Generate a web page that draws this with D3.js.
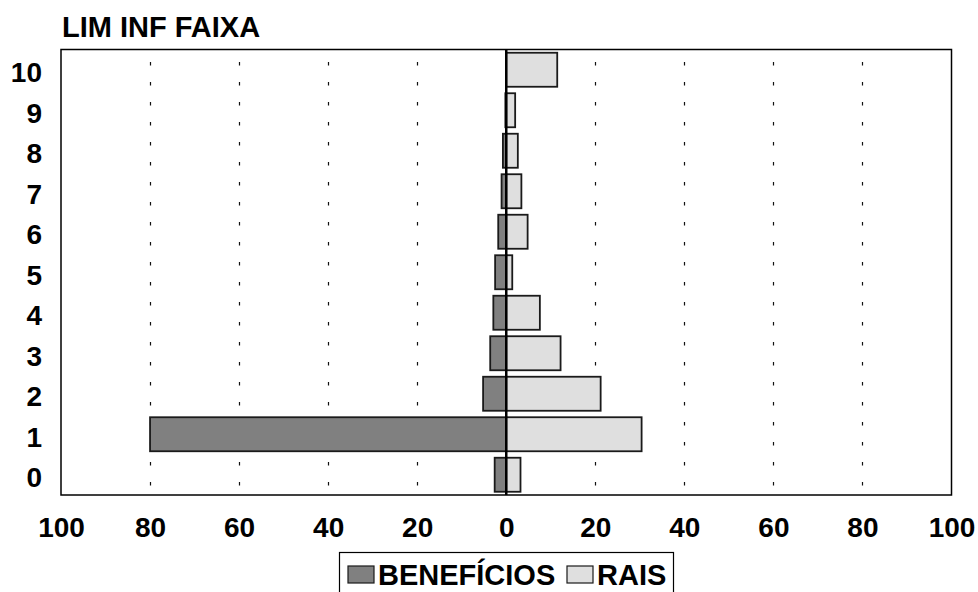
<!DOCTYPE html>
<html>
<head>
<meta charset="utf-8">
<script src="https://cdn.jsdelivr.net/npm/d3@7"></script>
<style>
  body { margin: 0; background: #fff; }
  text { font-family: "Liberation Sans", Arial, sans-serif; font-weight: bold; }
</style>
</head>
<body>
<div id="chart"></div>
<script>
// faixas (de baixo para cima) e valores em %
var faixas = ["0", "1", "2", "3", "4", "5", "6", "7", "8", "9", "10"];
var beneficios = [-2.6, -80, -5.2, -3.6, -2.9, -2.5, -1.8, -1.05, -0.75, -0.2, 0];
var rais = [3.2, 30.4, 21.2, 12.2, 7.55, 1.35, 4.8, 3.4, 2.6, 2.0, 11.45];
var xTicks = [-100, -80, -60, -40, -20, 0, 20, 40, 60, 80, 100];

var W = 978, H = 592;
var mLeft = 61, mRight = 951.5, mTop = 49.5, mBottom = 495;
var fs = 28;

var svg = d3.select("#chart").append("svg")
  .attr("width", W)
  .attr("height", H);

var x = d3.scaleLinear().domain([-100, 100]).range([mLeft, mRight]);
var y = d3.scaleBand()
  .domain(faixas.slice().reverse())
  .range([mTop, mBottom])
  .paddingInner(0.16)
  .paddingOuter(0.08);

// title
svg.append("text")
  .attr("x", 62)
  .attr("y", 37)
  .attr("font-size", 29)
  .text("LIM INF FAIXA");

// grid
svg.append("g")
  .selectAll("line")
  .data(xTicks.filter(function(d){ return d != 0 && Math.abs(d) != 100; }))
  .enter().append("line")
  .attr("x1", function(d){ return Math.round(x(d)) + 0.5; })
  .attr("x2", function(d){ return Math.round(x(d)) + 0.5; })
  .attr("y1", mTop)
  .attr("y2", mBottom)
  .attr("stroke", "#111")
  .attr("stroke-width", 1.2)
  .attr("stroke-dasharray", "3.5,16.5")
  .attr("stroke-dashoffset", 7.5);

function drawBars(vals, fill) {
  svg.append("g")
    .selectAll("rect")
    .data(vals)
    .enter().append("rect")
    .attr("x", function(d){ return x(Math.min(0, d)); })
    .attr("width", function(d){ return Math.abs(x(d) - x(0)); })
    .attr("y", function(d, i){ return y(faixas[i]); })
    .attr("height", y.bandwidth())
    .attr("fill", fill)
    .attr("stroke", "#1a1a1a")
    .attr("stroke-width", 1.8)
    .style("display", function(d){ return d == 0 ? "none" : null; });
}
drawBars(beneficios, "#808080");
drawBars(rais, "#dfdfdf");

// frame
svg.append("rect")
  .attr("x", mLeft).attr("y", mTop)
  .attr("width", mRight - mLeft).attr("height", mBottom - mTop)
  .attr("fill", "none")
  .attr("stroke", "#000")
  .attr("stroke-width", 1.5);

// zero line
svg.append("line")
  .attr("x1", x(0)).attr("x2", x(0))
  .attr("y1", mTop).attr("y2", mBottom)
  .attr("stroke", "#000")
  .attr("stroke-width", 2.5);

// x axis
var xAxis = svg.append("g")
  .attr("transform", "translate(0," + mBottom + ")")
  .call(d3.axisBottom(x).tickValues(xTicks).tickSize(0).tickPadding(0)
    .tickFormat(function(d){ return Math.abs(d); }));
xAxis.select(".domain").remove();
xAxis.selectAll("text")
  .attr("y", 42)
  .attr("dy", 0)
  .attr("fill", "#000")
  .attr("font-size", fs)
  .attr("font-family", "Liberation Sans, Arial, sans-serif")
  .attr("font-weight", "bold");

// y axis
var yAxis = svg.append("g")
  .attr("transform", "translate(" + 42 + ",0)")
  .call(d3.axisLeft(y).tickSize(0).tickPadding(0));
yAxis.select(".domain").remove();
yAxis.selectAll("text")
  .attr("x", 0)
  .attr("dy", "0.45em")
  .attr("fill", "#000")
  .attr("font-size", fs)
  .attr("font-family", "Liberation Sans, Arial, sans-serif")
  .attr("font-weight", "bold");

// legend
var lg = svg.append("g");
lg.append("rect")
  .attr("x", 339.5).attr("y", 552.5)
  .attr("width", 334).attr("height", 50)
  .attr("fill", "#fff")
  .attr("stroke", "#000")
  .attr("stroke-width", 1.2);
var items = [
  { name: "BENEFÍCIOS", fill: "#808080", sx: 348, tx: 378 },
  { name: "RAIS", fill: "#dfdfdf", sx: 567, tx: 597 }
];
items.forEach(function(it){
  lg.append("rect")
    .attr("x", it.sx).attr("y", 566)
    .attr("width", 26).attr("height", 17)
    .attr("fill", it.fill)
    .attr("stroke", "#1a1a1a")
    .attr("stroke-width", 1.2);
  lg.append("text")
    .attr("x", it.tx)
    .attr("y", 585)
    .attr("font-size", 29)
    .text(it.name);
});
</script>
</body>
</html>
